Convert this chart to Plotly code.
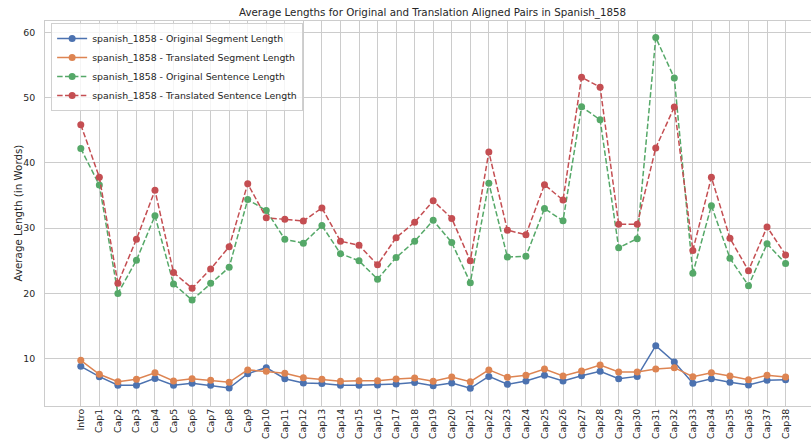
import plotly.graph_objects as go

categories = ["Intro"] + [f"Cap{i}" for i in range(1, 39)]

orig_segment = [8.85, 7.26, 5.94, 5.94, 7.0, 5.94, 6.25, 5.94, 5.53, 7.72,
                8.64, 6.95, 6.3, 6.2, 5.94, 5.94, 6.0, 6.14, 6.35, 5.88,
                6.3, 5.48, 7.3, 6.1, 6.6, 7.47, 6.6, 7.4, 8.08, 6.95,
                7.3, 12.0, 9.5, 6.25, 6.95, 6.4, 6.0, 6.7, 6.8]
trans_segment = [9.77, 7.63, 6.5, 6.86, 7.87, 6.6, 6.95, 6.7, 6.4, 8.3,
                 8.1, 7.8, 7.1, 6.86, 6.55, 6.65, 6.65, 6.9, 7.06, 6.55,
                 7.2, 6.5, 8.3, 7.16, 7.47, 8.44, 7.37, 8.13, 9.05, 7.98,
                 7.98, 8.44, 8.64, 7.26, 7.87, 7.37, 6.8, 7.47, 7.2]
orig_sentence = [42.2, 36.6, 20.0, 25.1, 31.9, 21.45, 19.0, 21.56, 24.0, 34.4,
                 32.7, 28.3, 27.7, 30.4, 26.1, 25.0, 22.2, 25.5, 28.0, 31.2,
                 27.8, 21.66, 36.9, 25.6, 25.7, 33.0, 31.15, 48.6, 46.6, 27.0,
                 28.4, 59.2, 53.0, 23.1, 33.45, 25.4, 21.2, 27.6, 24.6]
trans_sentence = [45.85, 37.8, 21.56, 28.3, 35.8, 23.2, 20.8, 23.75, 27.17, 36.8,
                  31.6, 31.36, 31.1, 33.1, 28.0, 27.4, 24.4, 28.55, 30.9, 34.2,
                  31.5, 25.0, 41.67, 29.7, 29.0, 36.66, 34.3, 53.1, 51.6, 30.6,
                  30.6, 42.3, 48.56, 26.6, 37.8, 28.45, 23.5, 30.2, 25.9]

series = [
    ("spanish_1858 - Original Segment Length", orig_segment, "#4C72B0", "solid"),
    ("spanish_1858 - Translated Segment Length", trans_segment, "#DD8452", "solid"),
    ("spanish_1858 - Original Sentence Length", orig_sentence, "#55A868", "5.5px,2.4px"),
    ("spanish_1858 - Translated Sentence Length", trans_sentence, "#C44E52", "5.5px,2.4px"),
]

FONT = "DejaVu Sans"
TXT = "#262626"
fig = go.Figure()
for name, vals, color, dash in series:
    fig.add_trace(go.Scatter(
        x=list(range(len(categories))), y=vals, name=name, mode="lines+markers",
        line=dict(color=color, width=1.5, dash=dash),
        marker=dict(color=color, size=7),
    ))

fig.update_layout(
    width=811, height=445,
    margin=dict(l=45, r=0, t=21, b=39, autoexpand=False),
    paper_bgcolor="white", plot_bgcolor="white",
    font=dict(family=FONT, size=9.4, color=TXT),
    title=dict(text="Average Lengths for Original and Translation Aligned Pairs in Spanish_1858",
               x=0.506, xanchor="center", xref="paper", y=1 - 12.3 / 445, yanchor="middle",
               font=dict(family=FONT, size=10.3, color=TXT)),
    legend=dict(x=0.008, y=0.995, xanchor="left", yanchor="top",
                bgcolor="rgba(255,255,255,0.8)", bordercolor="#d0d0d0", borderwidth=1,
                font=dict(family=FONT, size=9.4, color=TXT), tracegroupgap=0,
                itemwidth=30),
    showlegend=True,
    annotations=[dict(text="Average Length (in Words)", xref="paper", yref="paper",
                      x=0, y=0.5, xshift=-28, xanchor="center", yanchor="middle",
                      textangle=-90, showarrow=False,
                      font=dict(family=FONT, size=10.3, color=TXT))],
)
fig.update_xaxes(
    tickmode="array", tickvals=list(range(len(categories))), ticktext=categories,
    tickangle=-90, range=[-1.93, 39.37], showgrid=True, gridcolor="#cccccc", gridwidth=1,
    zeroline=False, showline=True, linecolor="#cccccc", linewidth=1, mirror=True,
    ticks="", ticklabelstandoff=-2, automargin=False,
    tickfont=dict(family=FONT, size=9.4, color=TXT),
)
fig.update_yaxes(
    range=[2.77, 61.73], tickvals=[10, 20, 30, 40, 50, 60], showgrid=True,
    gridcolor="#cccccc", gridwidth=1, zeroline=False, showline=True, linecolor="#cccccc",
    linewidth=1, mirror=True, ticks="", ticklabelstandoff=7, automargin=False,
    tickfont=dict(family=FONT, size=9.4, color=TXT),
)
fig.write_html("out.html", config={"displayModeBar": False},
               post_script="document.body.style.margin='0';")
